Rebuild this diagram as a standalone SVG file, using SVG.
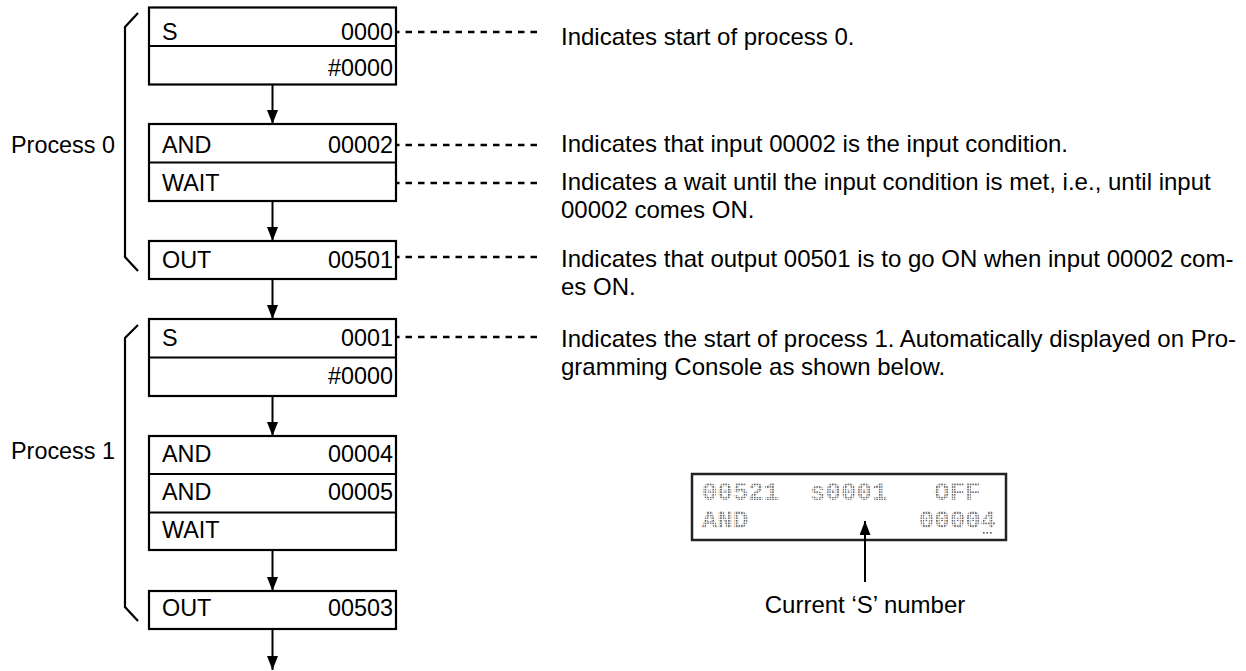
<svg xmlns="http://www.w3.org/2000/svg" width="1246" height="671" viewBox="0 0 1246 671">
<style>
.box{fill:#fff;stroke:#000;stroke-width:2.2}
.div{stroke:#000;stroke-width:2.2}
.t{font-family:"Liberation Sans",Arial,sans-serif;font-size:23.4px;fill:#000}
.r{text-anchor:end}
.d{font-family:"Liberation Sans",Arial,sans-serif;font-size:24px;fill:#000}
.br{fill:none;stroke:#000;stroke-width:2.2}
.con{stroke:#000;stroke-width:2;fill:none}
.dash{stroke:#000;stroke-width:2.3;stroke-dasharray:6.5 6;fill:none}
.lcd{font-family:"Liberation Mono","DejaVu Sans Mono",monospace;font-size:25.8px;font-weight:bold;fill:url(#dots)}
</style>
<defs>
<marker id="ah" markerUnits="userSpaceOnUse" markerWidth="15" markerHeight="12" refX="14" refY="5.5" orient="auto">
<path d="M0,0 L14,5.5 L0,11 Z" fill="#000"/>
</marker>
<pattern id="dots" patternUnits="userSpaceOnUse" width="2.6" height="2.6">
<rect x="0" y="0" width="1.6" height="1.6" fill="#555"/>
</pattern>
</defs>
<rect width="1246" height="671" fill="#fff"/>

<g id="process0-bracket">
<polyline class="br" points="138,13 125,27 125,257 138,271"/>
<text class="t" x="11" y="153">Process 0</text>
</g>
<g id="process1-bracket">
<polyline class="br" points="138,325 125,338 125,607 138,621"/>
<text class="t" x="11" y="459">Process 1</text>
</g>

<g id="n1">
<rect class="box" x="149" y="7.5" width="247" height="77"/>
<line class="div" x1="149" y1="46" x2="396" y2="46"/>
<text class="t" x="162" y="39.5">S</text>
<text class="t r" x="393" y="39.5">0000</text>
<text class="t r" x="393" y="76">#0000</text>
</g>
<g id="n2">
<rect class="box" x="149" y="124" width="247" height="77"/>
<line class="div" x1="149" y1="162.5" x2="396" y2="162.5"/>
<text class="t" x="162" y="153">AND</text>
<text class="t r" x="393" y="153">00002</text>
<text class="t" x="162" y="191">WAIT</text>
</g>
<g id="n3">
<rect class="box" x="149" y="241" width="247" height="38"/>
<text class="t" x="162" y="268">OUT</text>
<text class="t r" x="393" y="268">00501</text>
</g>
<g id="n4">
<rect class="box" x="149" y="319" width="247" height="77"/>
<line class="div" x1="149" y1="357.5" x2="396" y2="357.5"/>
<text class="t" x="162" y="346">S</text>
<text class="t r" x="393" y="346">0001</text>
<text class="t r" x="393" y="384">#0000</text>
</g>
<g id="n5">
<rect class="box" x="149" y="436" width="247" height="114"/>
<line class="div" x1="149" y1="474" x2="396" y2="474"/>
<line class="div" x1="149" y1="512.5" x2="396" y2="512.5"/>
<text class="t" x="162" y="462">AND</text>
<text class="t r" x="393" y="462">00004</text>
<text class="t" x="162" y="500">AND</text>
<text class="t r" x="393" y="500">00005</text>
<text class="t" x="162" y="538">WAIT</text>
</g>
<g id="n6">
<rect class="box" x="149" y="591" width="247" height="38"/>
<text class="t" x="162" y="616">OUT</text>
<text class="t r" x="393" y="616">00503</text>
</g>

<g id="notes">
<text class="d" x="561" y="45">Indicates start of process 0.</text>
<text class="d" x="561" y="152">Indicates that input 00002 is the input condition.</text>
<text class="d" x="561" y="190">Indicates a wait until the input condition is met, i.e., until input</text>
<text class="d" x="561" y="218">00002 comes ON.</text>
<text class="d" x="561" y="267">Indicates that output 00501 is to go ON when input 00002 com-</text>
<text class="d" x="561" y="295">es ON.</text>
<text class="d" x="561" y="347">Indicates the start of process 1. Automatically displayed on Pro-</text>
<text class="d" x="561" y="375">gramming Console as shown below.</text>
</g>

<g id="lcd">
<rect x="692" y="474" width="314" height="66" fill="#fff" stroke="#222" stroke-width="2.5"/>
<text class="lcd" x="701.7" y="500">00521</text>
<text class="lcd" x="810" y="500">s0001</text>
<text class="lcd" x="934" y="500">OFF</text>
<text class="lcd" x="701.7" y="528">AND</text>
<text class="lcd" x="918.7" y="528">00004</text>
<rect x="983" y="532" width="1.6" height="1.6" fill="#555"/>
<rect x="986.5" y="532" width="1.6" height="1.6" fill="#555"/>
<rect x="990" y="532" width="1.6" height="1.6" fill="#555"/>
</g>
<g id="lcd-label">
<text class="d" x="865" y="613" text-anchor="middle">Current ‘S’ number</text>
</g>

<g id="connectors">
<line class="con" x1="272.5" y1="85" x2="272.5" y2="124" marker-end="url(#ah)"/>
<line class="con" x1="272.5" y1="202" x2="272.5" y2="241" marker-end="url(#ah)"/>
<line class="con" x1="272.5" y1="280" x2="272.5" y2="319" marker-end="url(#ah)"/>
<line class="con" x1="272.5" y1="397" x2="272.5" y2="436" marker-end="url(#ah)"/>
<line class="con" x1="272.5" y1="551" x2="272.5" y2="591" marker-end="url(#ah)"/>
<line class="con" x1="272.5" y1="630" x2="272.5" y2="670" marker-end="url(#ah)"/>
<line class="dash" x1="397" y1="32" x2="537" y2="32" stroke-dashoffset="4"/>
<line class="dash" x1="397" y1="145" x2="537" y2="145" stroke-dashoffset="4"/>
<line class="dash" x1="397" y1="183" x2="537" y2="183" stroke-dashoffset="4"/>
<line class="dash" x1="397" y1="257" x2="537" y2="257" stroke-dashoffset="4"/>
<line class="dash" x1="397" y1="337" x2="537" y2="337" stroke-dashoffset="4"/>
<line class="con" x1="865" y1="582" x2="865" y2="521" marker-end="url(#ah)"/>
</g>
</svg>
